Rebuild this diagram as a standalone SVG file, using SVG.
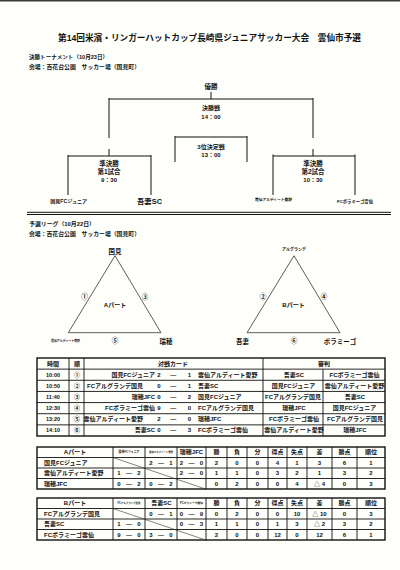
<svg xmlns="http://www.w3.org/2000/svg" width="400" height="570" viewBox="0 0 400 570">
<style>
text{font-family:"Liberation Sans","Noto Sans CJK JP",sans-serif;font-weight:bold;fill:#111;dominant-baseline:central}
.m{text-anchor:middle}
.e{text-anchor:end}
.f6{font-size:6px}
.f65{font-size:6.5px}
.f55{font-size:5.5px}
.ln{stroke:#111;stroke-width:1;fill:none}
.tri{stroke:#333;stroke-width:0.8;fill:none}
.ob{stroke:#111;stroke-width:1.4;fill:none}
.il{stroke:#111;stroke-width:0.9;fill:none}
.dg{stroke:#333;stroke-width:0.6;fill:none}
</style>
<rect x="0" y="0" width="400" height="570" fill="#fefefb"/>
<rect x="0" y="0" width="400" height="1.5" fill="#3a3a3a"/>

<g id="title">
<text x="209.5" y="38" class="m" font-size="8.6" textLength="303" lengthAdjust="spacingAndGlyphs">第14回米濱・リンガーハットカップ長崎県ジュニアサッカー大会　雲仙市予選</text>
</g>

<g id="tournament-heading">
<text x="29" y="57" font-size="5.4" textLength="79" lengthAdjust="spacingAndGlyphs">決勝トーナメント（10月23日）</text>
<text x="29" y="67" font-size="5.6" textLength="111" lengthAdjust="spacingAndGlyphs">会場：百花台公園　サッカー場（国見町）</text>
</g>

<g id="connectors">
<path class="ln" d="M211 92V99M109 99H313M109 98V138M313 98V138M109 149V156M313 149V156"/>
<path class="ln" d="M175 137H247M175 136V162M247 136V162"/>
<path class="ln" d="M68 156H151M68 155V195M151 155V195"/>
<path class="ln" d="M273 156H355M273 154.5V195M355 154.5V195"/>
<path class="ln" d="M27 212.3H391M27 214.5H391"/>
</g>

<g id="node-champion"><text x="211" y="86.5" class="m f65">優勝</text></g>
<g id="node-final">
<text x="211" y="108" class="m f6">決勝戦</text>
<text x="211" y="117" class="m f6">14：00</text>
</g>
<g id="node-third">
<text x="211" y="147" class="m f6">3位決定戦</text>
<text x="211" y="154.5" class="m f6">13：00</text>
</g>
<g id="node-semi1">
<text x="109" y="163" class="m f65">準決勝</text>
<text x="109" y="171.5" class="m f65">第1試合</text>
<text x="109" y="180" class="m f6">9：30</text>
</g>
<g id="node-semi2">
<text x="313" y="163" class="m f65">準決勝</text>
<text x="313" y="171.5" class="m f65">第2試合</text>
<text x="313" y="180" class="m f6">10：30</text>
</g>
<g id="node-team-kunimi"><text x="68.7" y="201" class="m" font-size="4.8" textLength="37" lengthAdjust="spacingAndGlyphs">国見FCジュニア</text></g>
<g id="node-team-azuma"><text x="149.5" y="201" class="m" font-size="6.8" textLength="25" lengthAdjust="spacingAndGlyphs">吾妻SC</text></g>
<g id="node-team-ardito"><text x="273.5" y="200.3" class="m" font-size="3.8" textLength="37" lengthAdjust="spacingAndGlyphs">雲仙アルディート愛野</text></g>
<g id="node-team-bolamigo"><text x="355" y="201" class="m" font-size="4.2" textLength="36" lengthAdjust="spacingAndGlyphs">FCボラミーゴ雲仙</text></g>

<g id="league-heading">
<text x="29" y="224" font-size="5.4" textLength="66" lengthAdjust="spacingAndGlyphs">予選リーグ（10月22日）</text>
<text x="29" y="234" font-size="5.6" textLength="111" lengthAdjust="spacingAndGlyphs">会場：百花台公園　サッカー場（国見町）</text>
</g>

<g id="group-a">
<polygon class="tri" points="115,255.7 68.3,332.7 161,332.7"/>
<text x="115" y="251" class="m f65">国見</text>
<text x="84.5" y="296" class="m f65">①</text>
<text x="145" y="296" class="m f65">③</text>
<text x="115" y="305" class="m f6">Aパート</text>
<text x="115" y="340" class="m f65">⑤</text>
<text x="65.5" y="341" class="m" font-size="3" textLength="29" lengthAdjust="spacingAndGlyphs">雲仙アルディート愛野</text>
<text x="166" y="341" class="m f65">瑞穂</text>
</g>

<g id="group-b">
<polygon class="tri" points="294,255.7 247,332.7 340,332.7"/>
<text x="294" y="249.3" class="m" font-size="4" textLength="24" lengthAdjust="spacingAndGlyphs">アルグランデ</text>
<text x="263" y="296" class="m f65">②</text>
<text x="324" y="296" class="m f65">④</text>
<text x="293.5" y="305" class="m f6">Bパート</text>
<text x="294" y="340" class="m f65">⑥</text>
<text x="242.5" y="341" class="m f65">吾妻</text>
<text x="340" y="341" class="m f65">ボラミーゴ</text>
</g>

<g id="match-table">
<rect class="ob" x="37" y="358" width="348" height="78"/>
<path class="il" d="M37 369.14H385M37 380.29H385M37 391.43H385M37 402.57H385M37 413.71H385M37 424.86H385M69 358V436M84 358V436M263 358V436M323 369.14V436"/>
<g class="f6">
<text x="53" y="363.6" class="m">時間</text>
<text x="77" y="363.6" class="m">順</text>
<text x="173" y="363.6" class="m">対戦カード</text>
<text x="324" y="363.6" class="m">審判</text>

<text x="53" y="374.7" class="m f55">10:00</text>
<text x="77" y="374.7" class="m">①</text>
<text x="155" y="374.7" class="e">国見FCジュニア</text>
<text x="159" y="374.7" class="m">2</text><text x="173.3" y="374.7" class="m">—</text><text x="189.3" y="374.7" class="m">1</text>
<text x="198" y="374.7">雲仙アルディート愛野</text>
<text x="294" y="374.7" class="m">吾妻SC</text>
<text x="354.5" y="374.7" class="m">FCボラミーゴ雲仙</text>

<text x="53" y="385.9" class="m f55">10:50</text>
<text x="77" y="385.9" class="m">②</text>
<text x="143" y="385.9" class="e">FCアルグランデ国見</text>
<text x="159" y="385.9" class="m">0</text><text x="173.3" y="385.9" class="m">—</text><text x="189.3" y="385.9" class="m">1</text>
<text x="198" y="385.9">吾妻SC</text>
<text x="293.5" y="385.9" class="m">国見FCジュニア</text>
<text x="354.5" y="385.9" class="m">雲仙アルディート愛野</text>

<text x="53" y="397" class="m f55">11:40</text>
<text x="77" y="397" class="m">③</text>
<text x="155" y="397" class="e">瑞穂JFC</text>
<text x="159" y="397" class="m">0</text><text x="173.3" y="397" class="m">—</text><text x="189.3" y="397" class="m">2</text>
<text x="198" y="397">国見FCジュニア</text>
<text x="293" y="397" class="m">FCアルグランデ国見</text>
<text x="355" y="397" class="m">吾妻SC</text>

<text x="53" y="408.2" class="m f55">12:30</text>
<text x="77" y="408.2" class="m">④</text>
<text x="155" y="408.2" class="e">FCボラミーゴ雲仙</text>
<text x="159" y="408.2" class="m">9</text><text x="173.3" y="408.2" class="m">—</text><text x="189.3" y="408.2" class="m">0</text>
<text x="198" y="408.2">FCアルグランデ国見</text>
<text x="294" y="408.2" class="m">瑞穂JFC</text>
<text x="354.5" y="408.2" class="m">国見FCジュニア</text>

<text x="53" y="419.3" class="m f55">13:20</text>
<text x="77" y="419.3" class="m">⑤</text>
<text x="143" y="419.3" class="e">雲仙アルディート愛野</text>
<text x="159" y="419.3" class="m">2</text><text x="173.3" y="419.3" class="m">—</text><text x="189.3" y="419.3" class="m">0</text>
<text x="198" y="419.3">瑞穂JFC</text>
<text x="294" y="419.3" class="m">FCボラミーゴ雲仙</text>
<text x="355" y="419.3" class="m">FCアルグランデ国見</text>

<text x="53" y="430.4" class="m f55">14:10</text>
<text x="77" y="430.4" class="m">⑥</text>
<text x="155" y="430.4" class="e">吾妻SC</text>
<text x="159" y="430.4" class="m">0</text><text x="173.3" y="430.4" class="m">—</text><text x="189.3" y="430.4" class="m">3</text>
<text x="198" y="430.4">FCボラミーゴ雲仙</text>
<text x="294" y="430.4" class="m">雲仙アルディート愛野</text>
<text x="355" y="430.4" class="m">瑞穂JFC</text>
</g>
</g>

<g id="standings-a">
<rect class="ob" x="37" y="447" width="348" height="42"/>
<path class="il" d="M37 457.5H385M37 468H385M37 478.5H385M113 447V489M145 447V489M177 447V489M206 447V489M227 447V489M247 447V489M268 447V489M287 447V489M307 447V489M332 447V489M357 447V489"/>
<path class="dg" d="M113 457.5L207 489.5"/>
<g class="f6">
<text x="75" y="452" class="m">Aパート</text>
<text x="129" y="452" class="m" font-size="3" textLength="21" lengthAdjust="spacingAndGlyphs">国見FCジュニア</text>
<text x="161" y="452" class="m" font-size="2.6" textLength="24" lengthAdjust="spacingAndGlyphs">雲仙アルディート愛野</text>
<text x="191.5" y="452" class="m">瑞穂JFC</text>
<text x="216.5" y="452" class="m">勝</text><text x="237" y="452" class="m">負</text><text x="257.5" y="452" class="m">分</text><text x="277.5" y="452" class="m">得点</text><text x="297" y="452" class="m">失点</text><text x="319.5" y="452" class="m">差</text><text x="344.5" y="452" class="m">勝点</text><text x="371" y="452" class="m">順位</text>

<text x="44" y="462.7">国見FCジュニア</text>
<text x="151" y="462.7" class="m">2</text><text x="161" y="462.7" class="m">—</text><text x="171" y="462.7" class="m">1</text>
<text x="181.5" y="462.7" class="m">2</text><text x="191.5" y="462.7" class="m">—</text><text x="201.5" y="462.7" class="m">0</text>
<text x="216.5" y="462.7" class="m">2</text><text x="237" y="462.7" class="m">0</text><text x="257.5" y="462.7" class="m">0</text><text x="277.5" y="462.7" class="m">4</text><text x="297" y="462.7" class="m">1</text><text x="319.5" y="462.7" class="m">3</text><text x="344.5" y="462.7" class="m">6</text><text x="371" y="462.7" class="m">1</text>

<text x="44" y="473.2">雲仙アルディート愛野</text>
<text x="119" y="473.2" class="m">1</text><text x="129" y="473.2" class="m">—</text><text x="139" y="473.2" class="m">2</text>
<text x="181.5" y="473.2" class="m">2</text><text x="191.5" y="473.2" class="m">—</text><text x="201.5" y="473.2" class="m">0</text>
<text x="216.5" y="473.2" class="m">1</text><text x="237" y="473.2" class="m">1</text><text x="257.5" y="473.2" class="m">0</text><text x="277.5" y="473.2" class="m">3</text><text x="297" y="473.2" class="m">2</text><text x="319.5" y="473.2" class="m">1</text><text x="344.5" y="473.2" class="m">3</text><text x="371" y="473.2" class="m">2</text>

<text x="44" y="483.7">瑞穂JFC</text>
<text x="119" y="483.7" class="m">0</text><text x="129" y="483.7" class="m">—</text><text x="139" y="483.7" class="m">2</text>
<text x="151" y="483.7" class="m">0</text><text x="161" y="483.7" class="m">—</text><text x="171" y="483.7" class="m">2</text>
<text x="216.5" y="483.7" class="m">0</text><text x="237" y="483.7" class="m">2</text><text x="257.5" y="483.7" class="m">0</text><text x="277.5" y="483.7" class="m">0</text><text x="297" y="483.7" class="m">4</text><text x="319.5" y="483.7" class="m">△ 4</text><text x="344.5" y="483.7" class="m">0</text><text x="371" y="483.7" class="m">3</text>
</g>
</g>

<g id="standings-b">
<rect class="ob" x="37" y="498" width="348" height="42"/>
<path class="il" d="M37 508.5H385M37 519H385M37 529.5H385M113 498V540M145 498V540M177 498V540M206 498V540M227 498V540M247 498V540M268 498V540M287 498V540M307 498V540M332 498V540M357 498V540"/>
<path class="dg" d="M113 508.5L207 540.5"/>
<g class="f6">
<text x="75" y="503" class="m">Bパート</text>
<text x="129" y="503" class="m" font-size="2.6" textLength="23" lengthAdjust="spacingAndGlyphs">FCアルグランデ国見</text>
<text x="161.5" y="503" class="m">吾妻SC</text>
<text x="191.5" y="503" class="m" font-size="2.8" textLength="23" lengthAdjust="spacingAndGlyphs">FCボラミーゴ雲仙</text>
<text x="216.5" y="503" class="m">勝</text><text x="237" y="503" class="m">負</text><text x="257.5" y="503" class="m">分</text><text x="277.5" y="503" class="m">得点</text><text x="297" y="503" class="m">失点</text><text x="319.5" y="503" class="m">差</text><text x="344.5" y="503" class="m">勝点</text><text x="371" y="503" class="m">順位</text>

<text x="44" y="513.7">FCアルグランデ国見</text>
<text x="151" y="513.7" class="m">0</text><text x="161" y="513.7" class="m">—</text><text x="171" y="513.7" class="m">1</text>
<text x="181.5" y="513.7" class="m">0</text><text x="191.5" y="513.7" class="m">—</text><text x="201.5" y="513.7" class="m">9</text>
<text x="216.5" y="513.7" class="m">0</text><text x="237" y="513.7" class="m">2</text><text x="257.5" y="513.7" class="m">0</text><text x="277.5" y="513.7" class="m">0</text><text x="297" y="513.7" class="m">10</text><text x="319.5" y="513.7" class="m">△ 10</text><text x="344.5" y="513.7" class="m">0</text><text x="371" y="513.7" class="m">3</text>

<text x="44" y="524.2">吾妻SC</text>
<text x="119" y="524.2" class="m">1</text><text x="129" y="524.2" class="m">—</text><text x="139" y="524.2" class="m">0</text>
<text x="181.5" y="524.2" class="m">0</text><text x="191.5" y="524.2" class="m">—</text><text x="201.5" y="524.2" class="m">3</text>
<text x="216.5" y="524.2" class="m">1</text><text x="237" y="524.2" class="m">1</text><text x="257.5" y="524.2" class="m">0</text><text x="277.5" y="524.2" class="m">1</text><text x="297" y="524.2" class="m">3</text><text x="319.5" y="524.2" class="m">△ 2</text><text x="344.5" y="524.2" class="m">3</text><text x="371" y="524.2" class="m">2</text>

<text x="44" y="534.7">FCボラミーゴ雲仙</text>
<text x="119" y="534.7" class="m">9</text><text x="129" y="534.7" class="m">—</text><text x="139" y="534.7" class="m">0</text>
<text x="151" y="534.7" class="m">3</text><text x="161" y="534.7" class="m">—</text><text x="171" y="534.7" class="m">0</text>
<text x="216.5" y="534.7" class="m">2</text><text x="237" y="534.7" class="m">0</text><text x="257.5" y="534.7" class="m">0</text><text x="277.5" y="534.7" class="m">12</text><text x="297" y="534.7" class="m">0</text><text x="319.5" y="534.7" class="m">12</text><text x="344.5" y="534.7" class="m">6</text><text x="371" y="534.7" class="m">1</text>
</g>
</g>
</svg>
